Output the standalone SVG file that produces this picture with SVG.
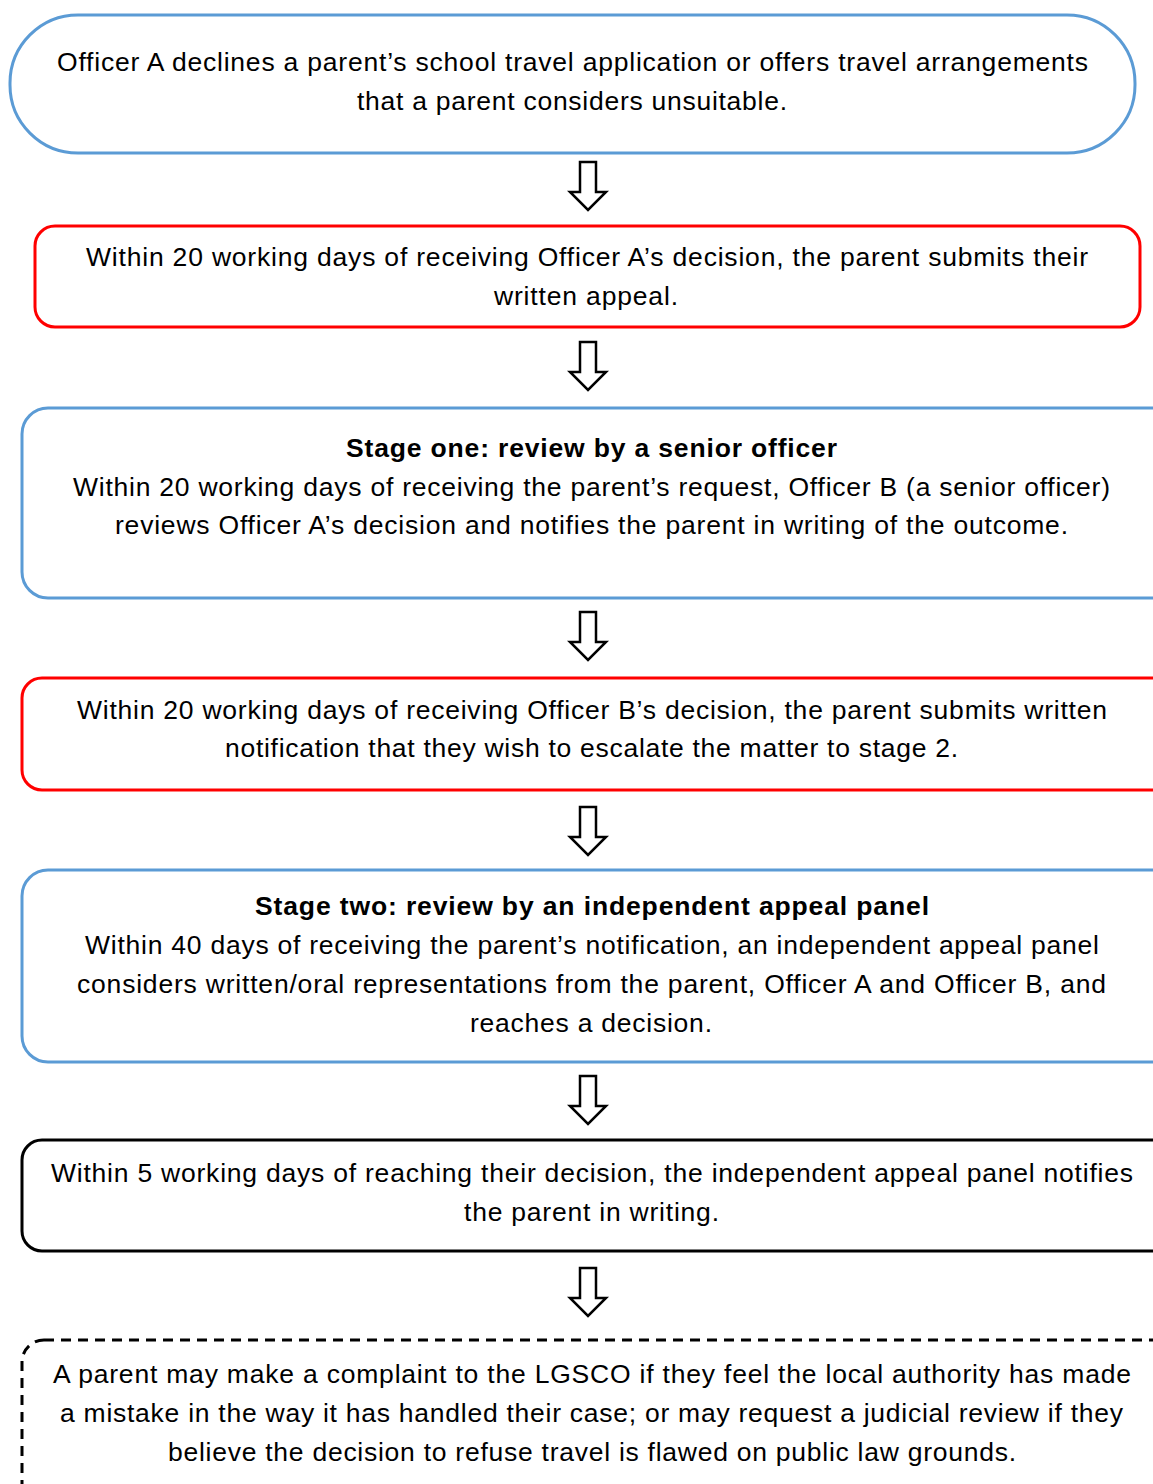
<svg xmlns="http://www.w3.org/2000/svg" width="1153" height="1484" viewBox="0 0 1153 1484">
<style>
text{font-family:"Liberation Sans",Arial,sans-serif;font-size:26.5px;fill:#000;text-anchor:middle}
.b{font-weight:bold}
.box{fill:#fff;stroke-width:3}
.blue{stroke:#5B9BD5}
.red{stroke:#FF0000}
.blk{stroke:#000}
.dash{stroke:#000;stroke-dasharray:10 7}
.arr{fill:#fff;stroke:#000;stroke-width:2.5;stroke-linejoin:miter}
</style>
<rect width="1153" height="1484" fill="#fff"/>
<g id="n1"><rect class="box blue" x="10" y="15" width="1125" height="138" rx="68" ry="68"/>
<text x="572.5" y="71" textLength="1031" lengthAdjust="spacing">Officer A declines a parent’s school travel application or offers travel arrangements</text>
<text x="572" y="110" textLength="430" lengthAdjust="spacing">that a parent considers unsuitable.</text></g>
<g id="n2"><rect class="box red" x="35" y="226" width="1105" height="101" rx="20"/>
<text x="587" y="266" textLength="1002" lengthAdjust="spacing">Within 20 working days of receiving Officer A’s decision, the parent submits their</text>
<text x="586" y="305" textLength="184" lengthAdjust="spacing">written appeal.</text></g>
<g id="n3"><rect class="box blue" x="22" y="408" width="1160" height="190" rx="26"/>
<text class="b" x="591.5" y="457" textLength="491" lengthAdjust="spacing">Stage one: review by a senior officer</text>
<text x="591.5" y="496" textLength="1037" lengthAdjust="spacing">Within 20 working days of receiving the parent’s request, Officer B (a senior officer)</text>
<text x="591.5" y="534" textLength="953" lengthAdjust="spacing">reviews Officer A’s decision and notifies the parent in writing of the outcome.</text></g>
<g id="n4"><rect class="box red" x="22" y="678" width="1160" height="112" rx="20"/>
<text x="592" y="719" textLength="1030" lengthAdjust="spacing">Within 20 working days of receiving Officer B’s decision, the parent submits written</text>
<text x="591.5" y="757" textLength="733" lengthAdjust="spacing">notification that they wish to escalate the matter to stage 2.</text></g>
<g id="n5"><rect class="box blue" x="22" y="870" width="1160" height="192" rx="26"/>
<text class="b" x="592" y="915" textLength="674" lengthAdjust="spacing">Stage two: review by an independent appeal panel</text>
<text x="592" y="954" textLength="1014" lengthAdjust="spacing">Within 40 days of receiving the parent’s notification, an independent appeal panel</text>
<text x="591.5" y="993" textLength="1029" lengthAdjust="spacing">considers written/oral representations from the parent, Officer A and Officer B, and</text>
<text x="591" y="1032" textLength="242" lengthAdjust="spacing">reaches a decision.</text></g>
<g id="n6"><rect class="box blk" x="22" y="1140" width="1160" height="111" rx="20"/>
<text x="592" y="1182" textLength="1082" lengthAdjust="spacing">Within 5 working days of reaching their decision, the independent appeal panel notifies</text>
<text x="591.5" y="1221" textLength="255" lengthAdjust="spacing">the parent in writing.</text></g>
<g id="n7"><rect class="box dash" x="22" y="1340" width="1160" height="190" rx="22"/>
<text x="592" y="1383" textLength="1078" lengthAdjust="spacing">A parent may make a complaint to the LGSCO if they feel the local authority has made</text>
<text x="591.5" y="1422" textLength="1063" lengthAdjust="spacing">a mistake in the way it has handled their case; or may request a judicial review if they</text>
<text x="592" y="1461" textLength="848" lengthAdjust="spacing">believe the decision to refuse travel is flawed on public law grounds.</text></g>
<g id="connectors">
<path class="arr" d="M580,162 H596 V192 H606 L588,210 L570,192 H580 Z"/>
<path class="arr" d="M580,342 H596 V372 H606 L588,390 L570,372 H580 Z"/>
<path class="arr" d="M580,612 H596 V642 H606 L588,660 L570,642 H580 Z"/>
<path class="arr" d="M580,807 H596 V837 H606 L588,855 L570,837 H580 Z"/>
<path class="arr" d="M580,1076 H596 V1106 H606 L588,1124 L570,1106 H580 Z"/>
<path class="arr" d="M580,1268 H596 V1298 H606 L588,1316 L570,1298 H580 Z"/>
</g>
</svg>
